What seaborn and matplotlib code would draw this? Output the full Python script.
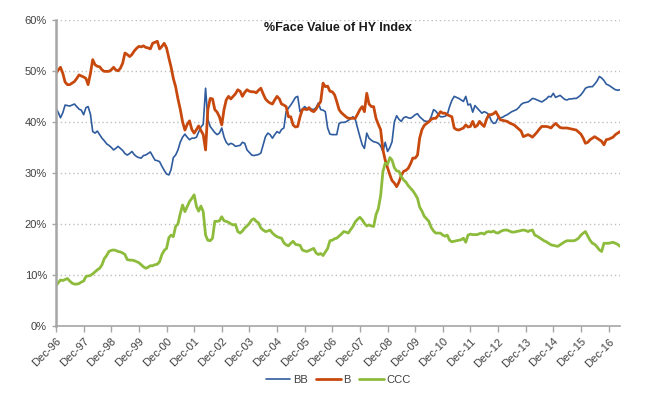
import numpy as np
import pandas as pd
import matplotlib.pyplot as plt
import matplotlib.dates as mdates
from matplotlib.ticker import PercentFormatter
import seaborn as sns

# monthly share of HY index face value (%), Dec-96 .. May-17, 12 months per row
bb_pct = [
    42.7, 41.8, 40.8, 41.8, 43.3, 43.2, 43.1, 43.3, 43.5, 43.0, 42.5, 42.3,
    41.4, 42.8, 43.0, 41.5, 38.1, 37.8, 38.2, 37.5, 36.8, 36.3, 35.7, 35.4,
    35.0, 34.5, 34.8, 35.2, 34.8, 34.4, 33.8, 33.5, 33.8, 34.2, 33.6, 33.2,
    33.0, 32.9, 33.4, 33.5, 33.8, 34.1, 33.3, 32.5, 32.4, 32.2, 31.3, 30.5,
    29.8, 29.6, 30.6, 33.0, 33.5, 34.5, 36.0, 37.0, 37.6, 37.0, 36.5, 36.8,
    36.8, 37.0, 38.0, 39.0, 39.5, 46.6, 40.5, 39.1, 38.5, 37.9, 37.5, 37.8,
    38.8, 37.0, 36.0, 35.5, 35.8, 35.6, 35.2, 35.3, 35.4, 36.0, 35.8, 34.5,
    34.0, 33.5, 33.4, 33.5, 33.6, 33.9, 35.5, 37.1, 37.8, 37.5, 36.8, 37.5,
    38.1, 37.8, 38.5, 38.8, 42.0, 42.7, 43.3, 44.0, 44.8, 45.0, 42.0, 42.5,
    43.0, 42.6, 42.4, 42.5, 42.4, 42.8, 43.7, 42.4, 42.3, 42.0, 38.8, 37.6,
    37.5, 37.5, 37.5, 39.7, 39.9, 39.9, 40.0, 40.3, 40.6, 41.0, 40.5, 38.8,
    37.1, 35.5, 34.8, 37.8, 36.8, 36.4, 36.1, 36.0, 35.8, 35.3, 34.2, 36.0,
    34.2, 35.0, 36.1, 40.0, 41.2, 40.5, 40.1, 40.8, 41.0, 40.8, 40.7, 41.0,
    41.4, 41.6, 41.0, 40.6, 40.2, 40.1, 40.1, 41.0, 42.4, 42.1, 41.5, 41.0,
    41.0, 41.1, 41.4, 43.0, 44.2, 45.0, 44.8, 44.6, 44.3, 44.0, 45.0, 43.3,
    43.5, 41.9, 43.2, 42.7, 42.2, 41.7, 42.0, 41.8, 41.4, 40.3, 39.7, 39.8,
    40.8, 40.8, 40.9, 41.2, 41.4, 41.7, 42.0, 42.2, 42.4, 42.8, 43.4, 43.7,
    43.8, 43.9, 44.2, 44.6, 44.5, 44.3, 44.1, 43.9, 44.2, 44.5, 45.0, 44.9,
    45.6, 44.8, 45.0, 45.2, 44.8, 44.4, 44.3, 44.5, 44.5, 44.6, 44.6, 44.9,
    45.3, 45.9, 46.6, 46.8, 46.9, 46.9, 47.4, 48.0, 48.9, 48.6, 48.1, 47.4,
    47.2, 46.9, 46.6, 46.3, 46.2, 46.3,
]

b_pct = [
    49.5, 50.2, 50.7, 49.5, 47.8, 47.3, 47.3, 47.6, 47.9, 48.5, 49.2, 49.0,
    48.8, 48.5, 47.3, 49.5, 52.2, 51.2, 50.9, 50.8, 50.2, 49.9, 49.9, 49.9,
    50.2, 50.7, 50.2, 50.0, 50.5, 51.5, 53.5, 53.2, 52.8, 53.2, 53.9, 54.4,
    54.8, 54.7, 54.9, 54.6, 54.5, 54.3, 55.4, 55.6, 55.8, 54.3, 54.8, 55.4,
    54.5, 52.5, 50.8, 48.5, 46.9, 44.5, 42.5, 40.0, 38.4, 39.5, 40.2, 38.5,
    37.8, 38.5, 39.2, 38.3, 37.5, 34.5, 42.4, 44.6, 44.5, 42.4, 41.9, 41.0,
    39.4, 42.5, 44.3, 45.0, 44.5, 45.0, 45.5, 46.3, 46.0, 45.0, 45.8, 46.3,
    46.0, 45.9, 45.9, 45.7, 46.2, 46.6, 45.5, 44.5, 44.0, 43.7, 43.5, 44.3,
    45.0, 44.5, 43.5, 43.3, 43.0, 41.0, 41.0, 39.4, 39.0, 39.1, 41.0, 42.4,
    42.5, 42.4, 42.8, 42.2, 42.0, 42.5, 43.3, 44.0, 47.6, 46.9, 47.0, 46.0,
    45.9, 45.3, 44.0, 42.4, 41.8, 41.4, 41.0, 40.7, 40.7, 40.7, 40.7, 41.5,
    42.4, 43.0, 42.0, 45.6, 43.5, 43.0, 43.0, 40.7, 39.5, 38.5, 34.5, 32.5,
    31.0, 29.6, 28.5, 28.0, 27.3, 28.2, 29.5, 30.3, 30.5, 30.9, 31.8, 32.9,
    32.9, 33.5, 36.8, 38.5, 39.3, 39.7, 40.0, 40.5, 40.7, 40.7, 41.3, 42.0,
    41.7, 41.7, 41.4, 41.2, 41.0, 38.8, 38.5, 38.4, 38.6, 38.8, 39.4, 39.0,
    39.1, 40.1, 39.0, 39.3, 40.1, 39.5, 39.1, 40.5, 41.4, 41.4, 41.6, 42.0,
    41.2, 40.4, 40.3, 40.2, 40.1, 39.8, 39.6, 39.4, 39.0, 38.6, 38.2, 37.1,
    37.3, 37.5, 37.3, 37.0, 37.5, 38.0, 38.6, 39.1, 39.1, 39.1, 39.0, 38.8,
    39.3, 39.7, 39.3, 38.9, 38.8, 38.8, 38.8, 38.7, 38.6, 38.5, 38.4, 38.0,
    37.6, 36.8, 35.8, 36.0, 36.5, 36.8, 37.1, 36.8, 36.5, 36.2, 35.5, 36.5,
    36.6, 36.8, 37.0, 37.5, 37.8, 38.1,
]

ccc_pct = [
    7.9, 8.5, 9.0, 8.9, 9.1, 9.3, 8.8, 8.4, 8.2, 8.2, 8.3, 8.6,
    8.8, 9.7, 9.8, 9.9, 10.2, 10.6, 11.0, 11.3, 12.0, 13.2, 13.8, 14.6,
    14.8, 14.9, 14.8, 14.6, 14.5, 14.3, 14.0, 13.0, 12.9, 12.9, 12.8, 12.6,
    12.4, 12.0, 11.6, 11.3, 11.5, 11.8, 11.8, 12.0, 12.1, 12.6, 14.0, 14.8,
    15.2, 17.3, 17.8, 17.5, 19.5, 20.0, 22.0, 23.7, 22.4, 23.4, 24.4, 25.0,
    25.7, 23.4, 22.5, 23.5, 22.4, 17.8, 16.8, 16.7, 17.2, 20.5, 20.5, 20.6,
    21.4, 20.6, 20.5, 20.3, 20.0, 19.8, 19.9, 18.5, 18.2, 18.6, 19.2, 19.6,
    20.1, 20.8, 21.0, 20.5, 20.2, 19.2, 18.8, 18.5, 18.6, 18.8, 18.2, 17.8,
    17.5, 17.3, 17.2, 16.3, 15.9, 15.7, 16.2, 16.6, 16.0, 15.9, 15.8, 14.9,
    14.7, 14.6, 14.8, 15.0, 15.2, 14.3, 14.0, 14.2, 13.8, 14.5, 15.2, 16.7,
    16.8, 17.1, 17.2, 17.6, 18.0, 18.5, 18.4, 18.2, 18.9, 19.5, 20.4, 20.9,
    21.3, 20.8, 20.1, 19.6, 19.8, 19.6, 19.5, 21.8, 23.0, 25.5, 30.3, 31.9,
    31.7, 33.0, 32.5, 31.0, 30.4, 30.3, 29.3, 28.6, 28.2, 27.5, 27.0, 26.5,
    25.8, 25.0, 23.3, 22.5, 21.5, 21.0, 20.5, 19.3, 18.6, 18.2, 18.2, 18.2,
    17.8, 17.6, 17.8, 16.8, 16.5, 16.6, 16.7, 16.8, 16.9, 17.2, 16.4, 17.8,
    18.0, 17.9, 17.9, 17.9, 18.1, 18.2, 18.0, 18.4, 18.5, 18.4, 18.6, 18.3,
    18.2, 18.5, 18.7, 18.8, 18.8, 18.6, 18.4, 18.4, 18.5, 18.6, 18.7, 18.8,
    18.7, 18.5, 18.7, 18.8, 17.8, 17.6, 17.3, 17.0, 16.7, 16.5, 16.2, 15.9,
    15.8, 15.7, 15.6, 15.9, 16.2, 16.5, 16.7, 16.7, 16.7, 16.7, 16.9, 17.2,
    17.8, 18.2, 18.5, 17.6, 16.8, 16.2, 16.0, 15.5, 14.9, 14.6, 16.2, 16.2,
    16.2, 16.3, 16.4, 16.2, 16.0, 15.6,
]

dates = pd.date_range('1996-12-31', periods=len(bb_pct), freq='ME')
series_names = ['BB', 'B', 'CCC']
colors = {'BB': '#2F5C9E', 'B': '#C8490E', 'CCC': '#8DBB3C'}
widths = {'BB': 1.2, 'B': 2.0, 'CCC': 2.0}

df = pd.DataFrame({'Date': dates, 'BB': bb_pct, 'B': b_pct, 'CCC': ccc_pct})
long_df = df.melt(id_vars='Date', var_name='Rating', value_name='Share')

sns.set_style('white')
plt.rcParams['font.family'] = ['Liberation Sans', 'DejaVu Sans']

fig = plt.figure(figsize=(6.71, 3.97), dpi=100)
ax = fig.add_axes([0.0835, 0.179, 0.8405, 0.771])

for name in series_names:
    sub = long_df[long_df['Rating'] == name]
    sns.lineplot(data=sub, x='Date', y='Share', ax=ax, color=colors[name],
                 linewidth=widths[name], label=name)

ax.set_xlim(dates[0], dates[-1])
ax.set_ylim(0, 60)
ax.set_yticks(range(0, 61, 10))
ax.yaxis.set_major_formatter(PercentFormatter(decimals=0))
ax.set_xticks(dates[::12])
ax.xaxis.set_major_formatter(mdates.DateFormatter('%b-%y'))
ax.set_xlabel('')
ax.set_ylabel('')

ax.grid(axis='y', linestyle=(0, (1, 2)), color='#BFBFBF', linewidth=1.0)
ax.set_axisbelow(True)
for side in ['top', 'right']:
    ax.spines[side].set_visible(False)
ax.spines['left'].set_color('#A6A6A6')
ax.spines['left'].set_linewidth(1.8)
ax.spines['bottom'].set_color('#A6A6A6')
ax.spines['bottom'].set_linewidth(1.2)

ax.tick_params(axis='x', which='major', direction='out', length=4, width=1,
               color='#A6A6A6', labelsize=8, labelcolor='#404040', bottom=True)
ax.tick_params(axis='y', which='major', direction='out', length=3, width=1,
               color='#A6A6A6', labelsize=8, labelcolor='#404040', left=True)
plt.setp(ax.get_xticklabels(), rotation=45, ha='right', rotation_mode='anchor')

ax.text(0.5, 0.975, '%Face Value of HY Index', transform=ax.transAxes,
        ha='center', va='center', fontsize=9, fontweight='bold', color='#1A1A1A')

handles, labels = ax.get_legend_handles_labels()
ax.get_legend().remove()
fig.legend(handles, labels, loc='center', bbox_to_anchor=(0.504, 0.043), ncol=3,
           frameon=False, fontsize=8, handlelength=2.2, handletextpad=0.2,
           columnspacing=0.8, labelcolor='#404040')

fig.savefig('out.png', dpi=100)
